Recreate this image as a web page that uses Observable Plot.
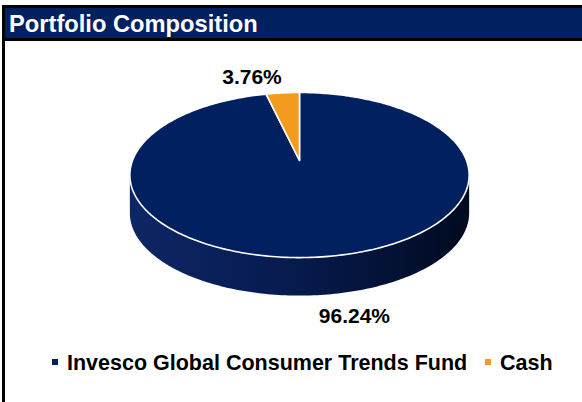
<!DOCTYPE html>
<html>
<head>
<meta charset="utf-8">
<script src="https://cdn.jsdelivr.net/npm/d3@7"></script>
<script src="https://cdn.jsdelivr.net/npm/@observablehq/plot@0.6"></script>
<style>
  html, body { margin: 0; padding: 0; background: #fff; width: 582px; height: 402px; overflow: hidden; }
  body { font-family: Arial, "Liberation Sans", sans-serif; position: relative; }
  #frame { position: absolute; left: 2px; top: 5px; width: 577px; height: 397px; border-left: 3px solid #000; border-top: 3px solid #000; }
  #title { position: absolute; left: 0; top: 0; width: 577px; height: 33px; background: #002060; border-bottom: 3px solid #000;
           color: #fff; font-weight: bold; font-size: 23.7px; line-height: 33px; padding-left: 4px; box-sizing: border-box; white-space: nowrap; }
  #chart { position: absolute; left: 0; top: 36px; }
  #legend { position: absolute; left: 0; top: 342px; width: 577px; font-weight: bold; font-size: 21.5px; line-height: 26px; color: #000; white-space: nowrap; }
  .item { position: absolute; top: 0; }
  .sw { display: inline-block; width: 6px; height: 6px; vertical-align: middle; margin-right: 9px; position: relative; top: -2px; }
</style>
</head>
<body>
<div id="frame">
  <div id="title">Portfolio Composition</div>
  <div id="chart"></div>
  <div id="legend"></div>
</div>
<script>
const categories = ["Invesco Global Consumer Trends Fund", "Cash"];
const values = [96.24, 3.76];
const valueLabels = ["96.24%", "3.76%"];
const colors = ["#002060", "#F29B1F"];
const legendLeft = [47, 480];

const W = 577, H = 300;
const cx = 294, cy = 116, Rx = 167, Ry = 80, persp = 0.176, depth = 38;

function proj(theta, r, drop) {
  const Z = r * Math.cos(theta), X = r * Math.sin(theta);
  const k = 1 / (1 + persp * Z);
  return {x: cx + Rx * X * k, y: cy - Ry * Z * k + drop};
}

const total = d3.sum(values);
let acc = 0;
const slices = values.map((v, i) => {
  const a0 = acc / total * 2 * Math.PI;
  acc += v;
  const a1 = acc / total * 2 * Math.PI;
  return {i, a0, a1};
});

function arcPts(a0, a1, drop) {
  const n = Math.max(2, Math.ceil((a1 - a0) / (Math.PI / 180)));
  const pts = [];
  for (let j = 0; j <= n; j++) pts.push(proj(a0 + (a1 - a0) * j / n, 1, drop));
  return pts;
}

// top faces
const tops = slices.map(s => {
  const c = proj(0, 0, 0);
  return [c, ...arcPts(s.a0, s.a1, 0), c];
});

// sides (front visible part between silhouette angles)
const tL = Math.acos(-persp), tR = 2 * Math.PI - Math.acos(-persp);
const sides = [];
slices.forEach(s => {
  const b0 = Math.max(s.a0, tL), b1 = Math.min(s.a1, tR);
  if (b1 > b0) {
    const top = arcPts(b0, b1, 0);
    const bot = arcPts(b0, b1, depth).reverse();
    sides.push({i: s.i, pts: [...top, ...bot, top[0]]});
  }
});

// label anchors from slice mid-angle
const labelNudge = [[25, -3], [-28, -4]];
const labelData = slices.map(s => {
  const m = (s.a0 + s.a1) / 2;
  const front = Math.cos(m) < 0;
  const p = proj(m, 1.2, front ? depth : 0);
  return {x: p.x + labelNudge[s.i][0], y: p.y + labelNudge[s.i][1], text: valueLabels[s.i]};
});

const marks = [];
sides.forEach(sd => {
  marks.push(Plot.line(sd.pts, {x: "x", y: "y", fill: "url(#sideGrad)", stroke: "none", curve: "linear"}));
});
tops.forEach((pts, i) => {
  marks.push(Plot.line(pts, {x: "x", y: "y", fill: colors[i], stroke: "#fff", strokeWidth: 1.6, strokeLinejoin: "round", curve: "linear"}));
});
marks.push(Plot.text(labelData, {x: "x", y: "y", text: "text", fontSize: 21, fontWeight: "bold", fill: "#000"}));

const svg = Plot.plot({
  width: W, height: H,
  margin: 0,
  x: {domain: [0, W], range: [0, W], axis: null},
  y: {domain: [0, H], range: [0, H], axis: null},
  style: {fontFamily: "Arial, 'Liberation Sans', sans-serif", background: "transparent"},
  marks
});

const defs = d3.select(svg).insert("defs", ":first-child");
const g = defs.append("linearGradient").attr("id", "sideGrad").attr("x1", 0).attr("x2", 1).attr("y1", 0).attr("y2", 0);
g.append("stop").attr("offset", "0%").attr("stop-color", "#0d2665");
g.append("stop").attr("offset", "45%").attr("stop-color", "#071b50");
g.append("stop").attr("offset", "100%").attr("stop-color", "#000a20");

document.getElementById("chart").appendChild(svg);

const legend = d3.select("#legend");
categories.forEach((c, i) => {
  const it = legend.append("div").attr("class", "item").style("left", legendLeft[i] + "px");
  it.append("span").attr("class", "sw").style("background", colors[i]);
  it.append("span").text(c);
});
</script>
</body>
</html>
